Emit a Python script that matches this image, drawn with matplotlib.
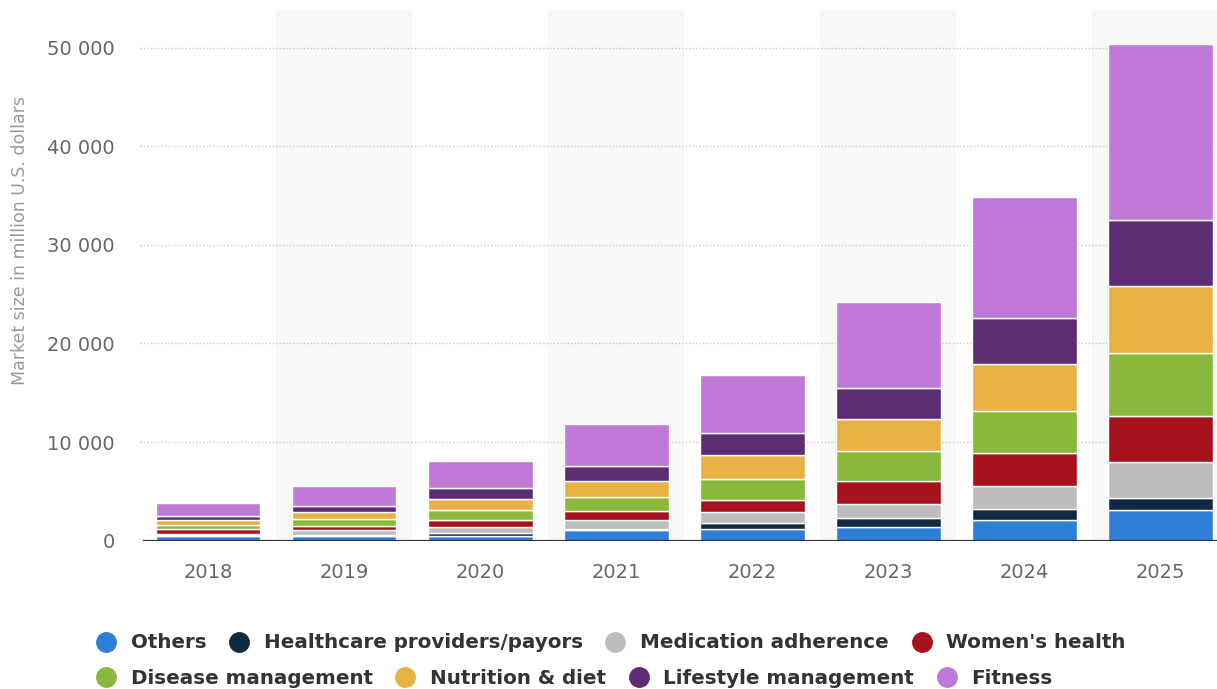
import matplotlib
matplotlib.use("Agg")
import matplotlib.pyplot as plt
from matplotlib.lines import Line2D
import numpy as np

years = ["2018", "2019", "2020", "2021", "2022", "2023", "2024", "2025"]

segments = [
    "Others", "Healthcare providers/payors", "Medication adherence", "Women's health",
    "Disease management", "Nutrition & diet", "Lifestyle management", "Fitness",
]

# Market size in million U.S. dollars, per segment and year
others = [500, 500, 440, 1100, 1190, 1390, 2130, 3070]
healthcare = [50, 50, 340, 100, 600, 940, 1120, 1260]
medication = [100, 550, 640, 940, 1080, 1390, 2330, 3610]
womens = [500, 350, 710, 910, 1290, 2370, 3320, 4660]
disease = [450, 700, 940, 1350, 2100, 2970, 4300, 6440]
nutrition = [500, 750, 1190, 1690, 2460, 3280, 4700, 6760]
lifestyle = [400, 650, 1080, 1460, 2200, 3110, 4700, 6740]
fitness = [1350, 2000, 2760, 4290, 5900, 8720, 12300, 17840]

series = [others, healthcare, medication, womens, disease, nutrition, lifestyle, fitness]
colors = ["#2f7ed8", "#0f2a42", "#bdbdbd", "#a6121d",
          "#8ab83c", "#e8b143", "#5c2d72", "#bf78d6"]

W, H = 1217, 689
fig = plt.figure(figsize=(W / 100, H / 100), dpi=100)
fig.patch.set_facecolor("white")

x0_px, x1_px = 140, 1228.5
y0_px, y1_px = 540.7, 10
ax = fig.add_axes([x0_px / W, (H - y0_px) / H, (x1_px - x0_px) / W, (y0_px - y1_px) / H])
ax.set_facecolor("white")

x = np.arange(len(years))
ax.set_xlim(-0.5, len(years) - 0.5)
ax.set_ylim(0, 53820)

# alternating column shading
for i in range(1, len(years), 2):
    ax.axvspan(i - 0.5, i + 0.5, color="#f8f8f8", zorder=0, lw=0)

# dotted gridlines
for yv in range(10000, 50001, 10000):
    ax.axhline(yv, color="#c8c8c8", lw=1.0, ls=(0, (1, 1.5)), zorder=1)

bottom = np.zeros(len(years))
for vals, col in zip(series, colors):
    vals = np.array(vals, dtype=float)
    ax.bar(x, vals, bottom=bottom, width=0.77, color=col, edgecolor="white",
           linewidth=1.0, zorder=2)
    bottom += vals

ax.axhline(0, color="#333333", lw=1.6, zorder=3, xmin=0.004)

for s in ax.spines.values():
    s.set_visible(False)

yt = list(range(0, 50001, 10000))
ax.set_yticks(yt)
ax.set_yticklabels(["0" if v == 0 else f"{v // 1000} 000" for v in yt])
ax.set_xticks(x)
ax.set_xticklabels(years)
ax.tick_params(axis="y", length=0, pad=18, labelsize=14, labelcolor="#666666")
ax.tick_params(axis="x", length=0, pad=16, labelsize=14, labelcolor="#666666")

fig.text(20 / W, (H - 240) / H, "Market size in million U.S. dollars", rotation=90,
         ha="center", va="center", fontsize=12.5, color="#999999")

handles = [Line2D([], [], marker="o", linestyle="none", markersize=14,
                  markerfacecolor=c, markeredgecolor=c) for c in colors]

legend_kw = dict(frameon=False, fontsize=14.3, handlelength=1.0, handletextpad=0.74,
                 columnspacing=1.15, borderpad=0, borderaxespad=0, ncol=4,
                 loc="center left", labelcolor="#333333")
leg1 = fig.legend(handles[:4], segments[:4], bbox_to_anchor=(96 / W, (H - 643) / H),
                  **legend_kw)
leg2 = fig.legend(handles[4:], segments[4:], bbox_to_anchor=(96 / W, (H - 678) / H),
                  **legend_kw)
for leg in (leg1, leg2):
    for t in leg.get_texts():
        t.set_fontweight("bold")

fig.savefig("out.png", dpi=100, facecolor="white")
